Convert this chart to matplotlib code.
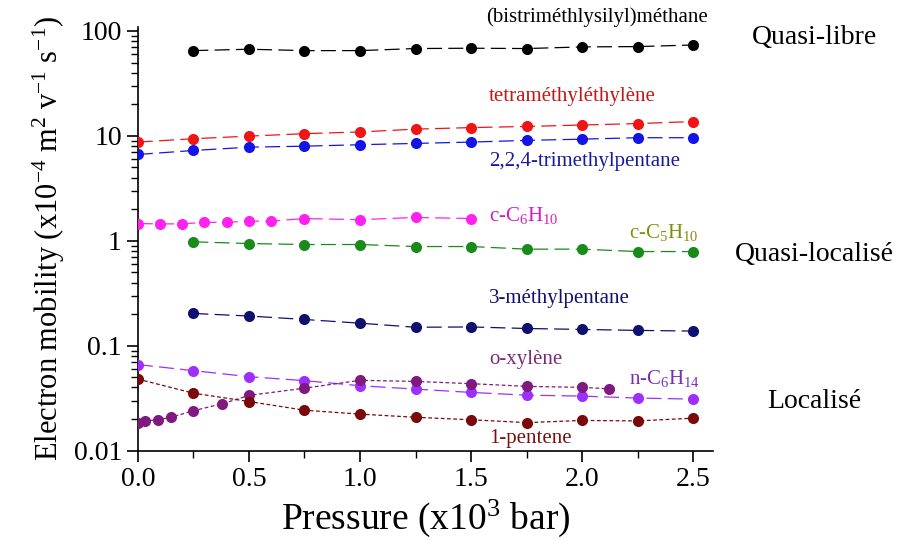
import matplotlib
matplotlib.use("Agg")
import matplotlib.pyplot as plt
from matplotlib.ticker import MultipleLocator, LogLocator, NullFormatter, FixedLocator, FixedFormatter

plt.rcParams["font.family"] = ["Liberation Serif", "DejaVu Serif"]
plt.rcParams["mathtext.fontset"] = "custom"
plt.rcParams["mathtext.rm"] = "Liberation Serif"
plt.rcParams["mathtext.it"] = "Liberation Serif:italic"

# ── Data: electron mobility (x1e-4 m2 V-1 s-1) vs pressure (x1e3 bar) ──────────
p_bsm = [0.25, 0.5, 0.75, 1.0, 1.25, 1.5, 1.75, 2.0, 2.25, 2.5]
mu_bsm = [65.0, 67.0, 65.0, 65.0, 68.0, 68.5, 68.0, 70.5, 71.0, 73.5]

p_tme = [0.0, 0.25, 0.5, 0.75, 1.0, 1.25, 1.5, 1.75, 2.0, 2.25, 2.5]
mu_tme = [8.73, 9.40, 9.95, 10.5, 10.9, 11.6, 12.0, 12.3, 12.7, 13.1, 13.7]

p_tmp = [0.0, 0.25, 0.5, 0.75, 1.0, 1.25, 1.5, 1.75, 2.0, 2.25, 2.5]
mu_tmp = [6.65, 7.26, 7.81, 7.98, 8.24, 8.48, 8.73, 9.06, 9.31, 9.61, 9.61]

p_chex = [0.0, 0.1, 0.2, 0.3, 0.4, 0.5, 0.6, 0.75, 1.0, 1.25, 1.5]
mu_chex = [1.46, 1.45, 1.45, 1.50, 1.50, 1.54, 1.54, 1.63, 1.59, 1.67, 1.63]

p_cpen = [0.25, 0.5, 0.75, 1.0, 1.25, 1.5, 1.75, 2.0, 2.25, 2.5]
mu_cpen = [0.978, 0.942, 0.922, 0.922, 0.882, 0.882, 0.833, 0.833, 0.790, 0.790]

p_3mp = [0.25, 0.5, 0.75, 1.0, 1.25, 1.5, 1.75, 2.0, 2.25, 2.5]
mu_3mp = [0.203, 0.192, 0.178, 0.164, 0.150, 0.151, 0.146, 0.143, 0.140, 0.138]

p_hex = [0.0, 0.25, 0.5, 0.75, 1.0, 1.25, 1.5, 1.75, 2.0, 2.25, 2.5]
mu_hex = [0.0661, 0.0579, 0.0507, 0.0465, 0.0416, 0.0386, 0.0359, 0.0338, 0.0331, 0.0317, 0.0310]

p_oxy = [0.0, 0.03, 0.09, 0.15, 0.25, 0.38, 0.5, 0.75, 1.0, 1.25, 1.5, 1.75, 2.0, 2.12]
mu_oxy = [0.0182, 0.0192, 0.0197, 0.0208, 0.0240, 0.0280, 0.0336, 0.0394, 0.0468,
          0.0457, 0.0435, 0.0410, 0.0401, 0.0389]

p_pent = [0.0, 0.25, 0.5, 0.75, 1.0, 1.25, 1.5, 1.75, 2.0, 2.25, 2.5]
mu_pent = [0.0481, 0.0353, 0.0294, 0.0243, 0.0223, 0.0208, 0.0197, 0.0185, 0.0194, 0.0192, 0.0204]

long_dash = (0, (12, 5))
short_dash = (0, (3, 2))

series = [
    (p_bsm, mu_bsm, "#000000", long_dash),
    (p_tme, mu_tme, "#f01414", long_dash),
    (p_tmp, mu_tmp, "#1414e6", long_dash),
    (p_chex, mu_chex, "#ff22ee", long_dash),
    (p_cpen, mu_cpen, "#1a8a1a", long_dash),
    (p_3mp, mu_3mp, "#10106e", long_dash),
    (p_hex, mu_hex, "#9b30ff", long_dash),
    (p_oxy, mu_oxy, "#7f1a7f", short_dash),
    (p_pent, mu_pent, "#7a0a0a", short_dash),
]

# compound labels: (text, x, y, colour)
labels = [
    ("(bistriméthlysilyl)méthane", 1.57, 135.0, "#000000"),
    ("tetraméthyléthylène", 1.58, 23.9, "#c01818"),
    ("2,2,4-trimethylpentane", 1.58, 5.7, "#1a1aa0"),
    ("c-C$_6$H$_{10}$", 1.58, 1.73, "#d020c0"),
    ("c-C$_5$H$_{10}$", 2.21, 1.19, "#8a8a10"),
    ("3-méthylpentane", 1.58, 0.285, "#10106e"),
    ("o-xylène", 1.58, 0.0743, "#7a2a7a"),
    ("n-C$_6$H$_{14}$", 2.21, 0.0489, "#7a30b0"),
    ("1-pentene", 1.58, 0.0130, "#7a1010"),
]

# regime labels on the right: (text, fig y)
regimes = [("Quasi-libre", 0.930), ("Quasi-localisé", 0.529), ("Localisé", 0.257)]

fig = plt.figure(figsize=(9.19, 5.41), dpi=100)
ax = fig.add_axes([0.150, 0.167, 0.626, 0.783])

for p, mu, c, ls in series:
    ax.plot(p, mu, color=c, linestyle=ls, linewidth=0.9,
            marker="o", markersize=8, markeredgewidth=0, zorder=3)

for txt, x, y, c in labels:
    ax.text(x, y, txt, color=c, fontsize=15, ha="left", va="center")

for txt, y in regimes:
    fig.text(0.886, y, txt, fontsize=20, ha="center", va="center")

ax.set_yscale("log")
ax.set_xlim(0, 2.59)
ax.set_ylim(0.01, 109)

ax.xaxis.set_major_locator(MultipleLocator(0.5))
ax.xaxis.set_minor_locator(MultipleLocator(0.25))
ax.xaxis.set_major_formatter(matplotlib.ticker.FormatStrFormatter("%.1f"))

yt = [0.01, 0.1, 1, 10, 100]
ax.yaxis.set_major_locator(FixedLocator(yt))
ax.yaxis.set_major_formatter(FixedFormatter(["0.01", "0.1", "1", "10", "100"]))
ax.yaxis.set_minor_locator(LogLocator(base=10, subs=range(2, 10)))
ax.yaxis.set_minor_formatter(NullFormatter())

ax.tick_params(which="major", direction="out", length=8, width=1.2, labelsize=20)
ax.tick_params(which="minor", direction="out", length=5, width=1.0)

for side in ("top", "right"):
    ax.spines[side].set_visible(False)
for side in ("left", "bottom"):
    ax.spines[side].set_linewidth(1.2)

ax.set_xlabel("Pressure (x10$^3$ bar)", fontsize=27, labelpad=4)
ax.set_ylabel("Electron mobility (x10$^{-4}$ m$^2$ v$^{-1}$ s$^{-1}$)", fontsize=22, labelpad=5)

fig.savefig("out.png", dpi=100)
